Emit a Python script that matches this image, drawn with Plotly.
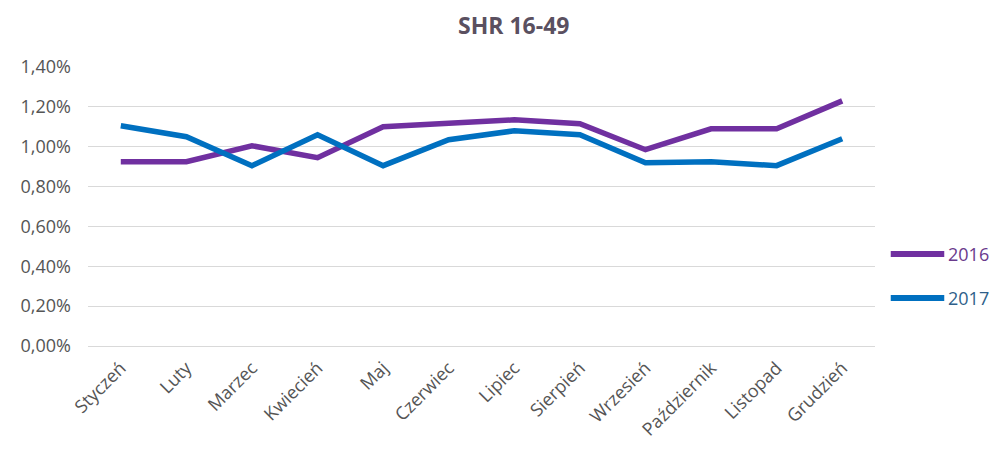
import plotly.graph_objects as go

months = ["Styczeń", "Luty", "Marzec", "Kwiecień", "Maj", "Czerwiec", "Lipiec",
          "Sierpień", "Wrzesień", "Październik", "Listopad", "Grudzień"]
shr_2016 = [0.925, 0.925, 1.005, 0.945, 1.10, 1.12, 1.135, 1.115, 0.985, 1.09, 1.09, 1.23]
shr_2017 = [1.105, 1.05, 0.905, 1.06, 0.905, 1.035, 1.08, 1.06, 0.92, 0.925, 0.905, 1.04]
series_names = ["2016", "2017"]
colors = ["#7030A0", "#0070C0"]
text_colors = ["#6a3a8c", "#2f5f8a"]

fig = go.Figure()
for name, vals, col in zip(series_names, [shr_2016, shr_2017], colors):
    fig.add_trace(go.Scatter(x=months, y=[v / 100 for v in vals], mode="lines",
                             name=name, line=dict(color=col, width=5.5),
                             showlegend=False))

# legend keys (drawn in paper coordinates)
legend_y = [0.330, 0.172]
for name, col, tcol, ly in zip(series_names, colors, text_colors, legend_y):
    fig.add_shape(type="line", xref="paper", yref="paper", x0=1.02, x1=1.088,
                  y0=ly, y1=ly, line=dict(color=col, width=6))
    fig.add_annotation(xref="paper", yref="paper", x=1.09, y=ly, text=name,
                       showarrow=False, xanchor="left", yanchor="middle",
                       font=dict(size=18, color=tcol, family="Open Sans"))

fig.update_layout(
    margin=dict(l=80, r=117, t=59, b=98, autoexpand=False),
    paper_bgcolor="white", plot_bgcolor="white",
    separators=", ",
    font=dict(family="Open Sans", color="#555555"),
    title=dict(text="<b>SHR 16-49</b>", x=0.514, xref="container", xanchor="center",
               y=0.958, yref="container", yanchor="middle",
               font=dict(size=23, color="#5a5060", family="Open Sans")),
)
fig.update_xaxes(
    type="category", range=[-0.5, 11.5], automargin=False,
    tickangle=-45, showgrid=False, showline=False, ticks="",
    ticklabelstandoff=7,
    tickfont=dict(size=18, color="#555555"),
)
fig.update_yaxes(
    range=[0, 0.014], dtick=0.002, tickformat=".2%", automargin=False,
    showgrid=True, gridcolor="#d9d9d9", gridwidth=1,
    zeroline=True, zerolinecolor="#d9d9d9", zerolinewidth=1,
    showline=False, ticks="", ticklabelstandoff=16,
    tickfont=dict(size=18, color="#555555"),
)

fig.write_html("out.html")
